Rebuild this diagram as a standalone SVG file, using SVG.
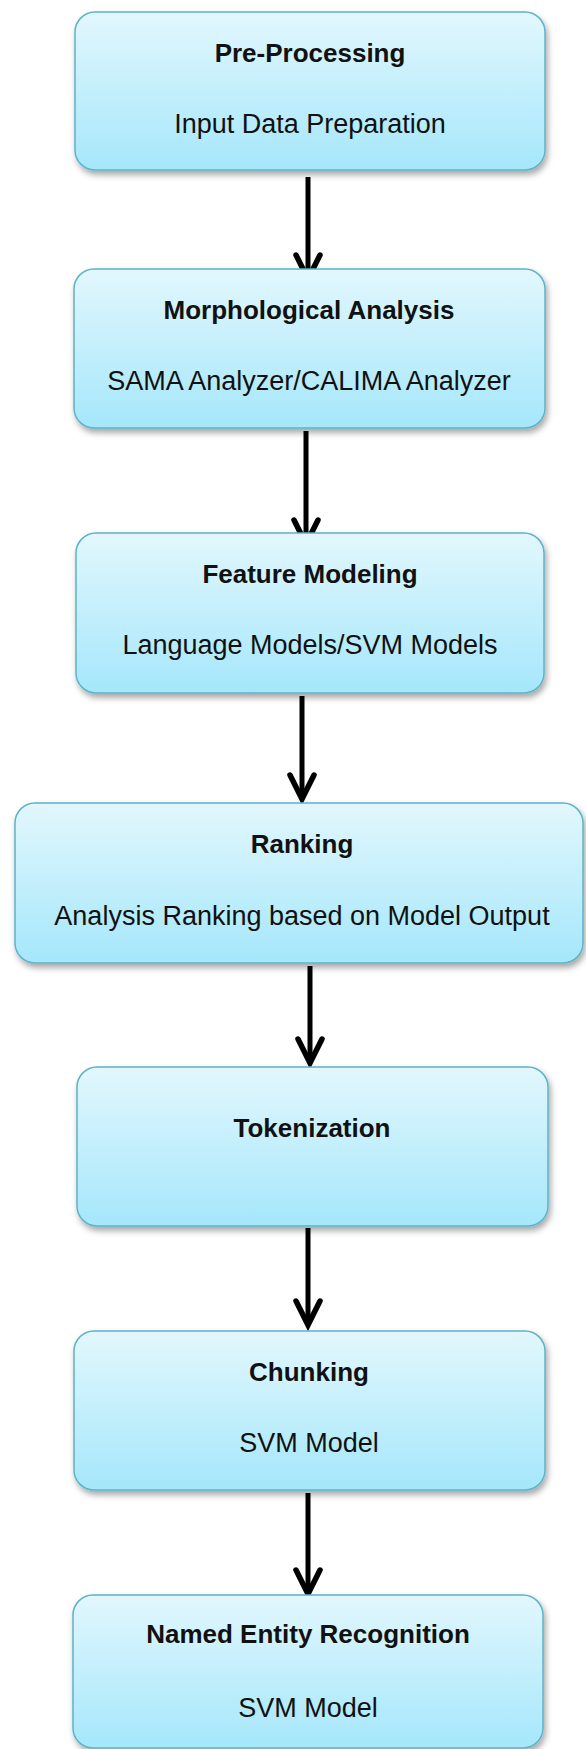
<svg xmlns="http://www.w3.org/2000/svg" width="586" height="1749" viewBox="0 0 586 1749">
  <defs>
    <linearGradient id="boxFill" x1="0" y1="0" x2="0" y2="1">
      <stop offset="0" stop-color="#e2f7fd"/>
      <stop offset="1" stop-color="#a5e7fb"/>
    </linearGradient>
    <filter id="shadow" x="-10%" y="-10%" width="125%" height="130%">
      <feDropShadow dx="2" dy="4" stdDeviation="3" flood-color="#000" flood-opacity="0.35"/>
    </filter>
    <marker id="head" markerUnits="userSpaceOnUse" viewBox="-30 -18 36 36" markerWidth="36" markerHeight="36" refX="0" refY="0" orient="auto" overflow="visible">
      <path d="M-24,-12 L0,0 L-24,12" fill="none" stroke="#000" stroke-width="5.5" stroke-linejoin="miter" stroke-linecap="round"/>
    </marker>
  </defs>
  <style>
    .box { fill: url(#boxFill); stroke: #5eb3c8; stroke-width: 1.5; filter: url(#shadow); }
    .title { font-family: "Liberation Sans", Arial, sans-serif; font-weight: bold; font-size: 26px; fill: #111; text-anchor: middle; }
    .sub { font-family: "Liberation Sans", Arial, sans-serif; font-size: 27px; fill: #111; text-anchor: middle; }
    .arrow { stroke: #000; stroke-width: 5; fill: none; marker-end: url(#head); }
  </style>

  <rect width="586" height="1749" fill="#ffffff"/>

  <g id="connectors">
    <line class="arrow" x1="308" y1="177" x2="308" y2="279"/>
    <line class="arrow" x1="306" y1="431" x2="306" y2="544"/>
    <line class="arrow" x1="302" y1="696" x2="302" y2="799"/>
    <line class="arrow" x1="310" y1="966" x2="310" y2="1063"/>
    <line class="arrow" x1="308" y1="1228" x2="308" y2="1325"/>
    <line class="arrow" x1="308" y1="1493" x2="308" y2="1594"/>
  </g>

  <g id="pre-processing">
    <rect class="box" x="75" y="12" width="470" height="158" rx="20"/>
    <text class="title" x="310" y="62">Pre-Processing</text>
    <text class="sub" x="310" y="133">Input Data Preparation</text>
  </g>

  <g id="morphological-analysis">
    <rect class="box" x="74" y="269" width="471" height="159" rx="20"/>
    <text class="title" x="309" y="319">Morphological Analysis</text>
    <text class="sub" x="309" y="390">SAMA Analyzer/CALIMA Analyzer</text>
  </g>

  <g id="feature-modeling">
    <rect class="box" x="76" y="533" width="468" height="160" rx="20"/>
    <text class="title" x="310" y="583">Feature Modeling</text>
    <text class="sub" x="310" y="654">Language Models/SVM Models</text>
  </g>

  <g id="ranking">
    <rect class="box" x="15" y="803" width="568" height="160" rx="20"/>
    <text class="title" x="302" y="853">Ranking</text>
    <text class="sub" x="302" y="925">Analysis Ranking based on Model Output</text>
  </g>

  <g id="tokenization">
    <rect class="box" x="77" y="1067" width="471" height="159" rx="20"/>
    <text class="title" x="312" y="1137">Tokenization</text>
  </g>

  <g id="chunking">
    <rect class="box" x="74" y="1331" width="471" height="159" rx="20"/>
    <text class="title" x="309" y="1381">Chunking</text>
    <text class="sub" x="309" y="1452">SVM Model</text>
  </g>

  <g id="named-entity-recognition">
    <rect class="box" x="73" y="1595" width="470" height="153" rx="20"/>
    <text class="title" x="308" y="1643">Named Entity Recognition</text>
    <text class="sub" x="308" y="1717">SVM Model</text>
  </g>
</svg>
